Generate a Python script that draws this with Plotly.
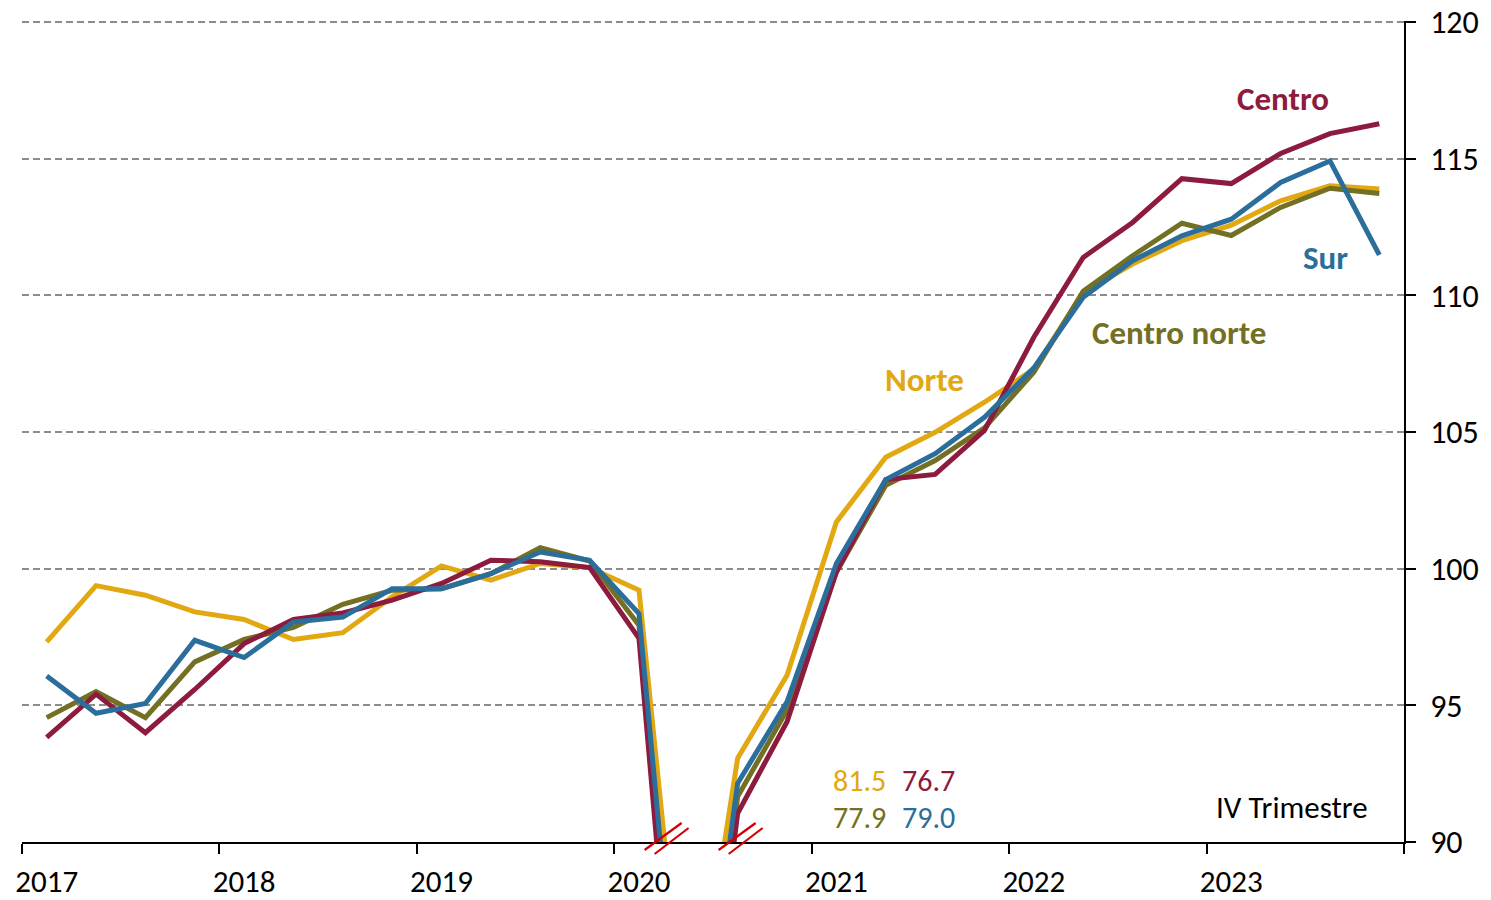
import plotly.graph_objects as go

quarters = [f"{y}-T{q}" for y in range(2017, 2024) for q in range(1, 5)]
year_labels = ["2017", "2018", "2019", "2020", "2021", "2022", "2023"]

norte = [97.32, 99.38, 99.03, 98.42, 98.14, 97.41, 97.66, 98.97, 100.10, 99.58, 100.19, 100.04,
         99.21, 81.5, 93.07, 96.10, 101.71, 104.08, 104.99, 106.09, 107.3, 110.1, 111.15, 112.0,
         112.57, 113.46, 114.01, 113.89]
centro = [93.83, 95.41, 94.0, 95.58, 97.26, 98.14, 98.38, 98.85, 99.46, 100.31, 100.25, 100.04,
          97.45, 76.7, 91.05, 94.40, 99.88, 103.26, 103.45, 105.06, 108.47, 111.39, 112.67, 114.27,
          114.09, 115.19, 115.92, 116.28]
centro_norte = [94.55, 95.50, 94.55, 96.59, 97.41, 97.85, 98.70, 99.21, 99.27, 99.82, 100.77, 100.28,
                97.93, 77.9, 91.66, 94.83, 99.88, 103.05, 103.96, 105.15, 107.19, 110.15, 111.45, 112.64,
                112.19, 113.22, 113.92, 113.73]
sur = [96.07, 94.71, 95.07, 97.38, 96.75, 98.05, 98.23, 99.27, 99.27, 99.82, 100.61, 100.31,
       98.36, 79.0, 92.15, 95.13, 100.19, 103.26, 104.21, 105.54, 107.35, 109.93, 111.27, 112.18,
       112.79, 114.13, 114.92, 111.48]

C_NORTE = "#E2A812"
C_CENTRO = "#8C1B3D"
C_CNORTE = "#737024"
C_SUR = "#2B6E9B"

FONT = "Carlito, Lato, sans-serif"
FS_TICK = 31
FS_LAB = 33
FS_NUM = 30

xpos = [i + 0.5 for i in range(len(quarters))]

fig = go.Figure()
for name, vals, col in [("Norte", norte, C_NORTE), ("Centro norte", centro_norte, C_CNORTE),
                        ("Centro", centro, C_CENTRO), ("Sur", sur, C_SUR)]:
    fig.add_trace(go.Scatter(x=xpos, y=vals, mode="lines", name=name,
                             line=dict(color=col, width=5), text=quarters,
                             hovertemplate="%{text}: %{y:.1f}<extra>" + name + "</extra>"))

# series labels
labels = [("Centro", 25.54, 117.19, C_CENTRO), ("Sur", 26.41, 111.38, C_SUR),
          ("Centro norte", 23.45, 108.64, C_CNORTE), ("Norte", 18.29, 106.92, C_NORTE)]
for txt, x, y, col in labels:
    fig.add_annotation(x=x, y=y, text=f"<b>{txt}</b>", showarrow=False,
                       font=dict(family=FONT, size=FS_LAB, color=col))

# 2020-T2 values (off scale)
q2_idx = quarters.index("2020-T2")
offscale = [(norte[q2_idx], 16.97, 92.24, C_NORTE), (centro[q2_idx], 18.37, 92.24, C_CENTRO),
            (centro_norte[q2_idx], 16.97, 90.88, C_CNORTE), (sur[q2_idx], 18.37, 90.88, C_SUR)]
for v, x, y, col in offscale:
    fig.add_annotation(x=x, y=y, text=f"{v:.1f}", showarrow=False,
                       font=dict(family=FONT, size=FS_NUM, color=col))

fig.add_annotation(x=25.74, y=91.28, text="IV Trimestre", showarrow=False,
                   font=dict(family=FONT, size=FS_TICK, color="#000000"))

# axis break marks
for xa in [13.06, 14.56]:
    for (a0, b0, a1, b1) in [(-22, -8, 15, 19), (-12, -12, 22, 14)]:
        fig.add_shape(type="line", xref="x", yref="paper", xsizemode="pixel", ysizemode="pixel",
                      xanchor=xa, yanchor=0, x0=a0, x1=a1, y0=b0, y1=b1,
                      line=dict(color="#D40000", width=2.2))

fig.update_layout(
    width=1491, height=900,
    margin=dict(l=22, r=87, t=21, b=58, autoexpand=False),
    paper_bgcolor="white", plot_bgcolor="white",
    showlegend=False,
    font=dict(family=FONT, size=FS_TICK, color="#000000"),
)

fig.update_xaxes(
    range=[0, 28], automargin=False,
    tickvals=[4 * k + 0.5 for k in range(len(year_labels))],
    ticktext=year_labels,
    ticks="", showgrid=False, zeroline=False,
    showline=True, linecolor="#000000", linewidth=1.5,
    tickfont=dict(family=FONT, size=FS_TICK, color="#000000"),
    ticklabelstandoff=11,
    minor=dict(tickvals=[4 * k for k in range(len(year_labels) + 1)], ticks="outside",
               ticklen=10, tickcolor="#000000", tickwidth=1.5, showgrid=False),
)

fig.update_yaxes(
    side="right", range=[90, 120.04], tickvals=[90, 95, 100, 105, 110, 115, 120],
    automargin=False,
    ticks="outside", ticklen=10, tickcolor="#000000", tickwidth=1.5,
    showline=True, linecolor="#000000", linewidth=1.5,
    showgrid=True, gridcolor="#8C8C8C", gridwidth=1.5, griddash="7px,4px",
    zeroline=False,
    tickfont=dict(family=FONT, size=32, color="#000000"),
    ticklabelstandoff=8,
)

fig.write_html("out.html", config={"displayModeBar": False},
               post_script="document.body.style.margin='0px';document.body.style.overflow='hidden';")
